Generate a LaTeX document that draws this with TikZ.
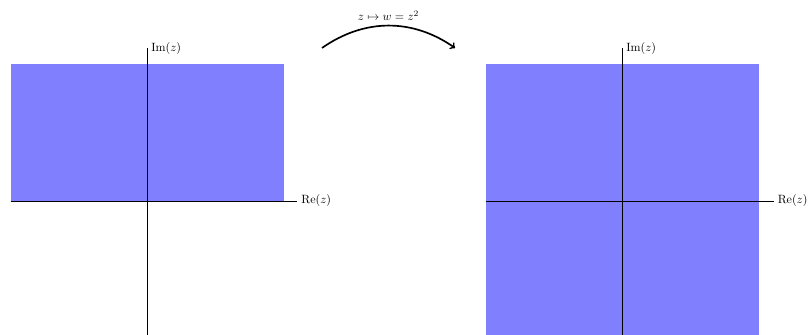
\documentclass[tikz,border=0pt]{standalone}
\usetikzlibrary{arrows}
\begin{document}
\begin{tikzpicture}[x=2cm,y=2cm,
  region/.style={fill=blue!50,draw=none},
  axis/.style={draw=black,line width=0.5pt},
  maparrow/.style={->,line width=1.4pt}]
\useasboundingbox (-2.154,-1.963) rectangle (9.714,2.945);
% left plane
\fill[region] (-2,0) rectangle (2,2);
\coordinate (lxa) at (-2,0);
\coordinate (lxb) at (2.2,0);
\coordinate (lya) at (0,-2);
\coordinate (lyb) at (0,2.24);
\draw[axis] (lxa) -- (lxb) node[right] (lre) {Re$(z)$};
\draw[axis] (lya) -- (lyb) node[right] (lim) {Im$(z)$};
% right plane
\begin{scope}[xshift=13.92cm]
\fill[region] (-2,-2) rectangle (2,2);
\coordinate (rxa) at (-2,0);
\coordinate (rxb) at (2.22,0);
\coordinate (rya) at (0,-2);
\coordinate (ryb) at (0,2.24);
\draw[axis] (rxa) -- (rxb) node[right] (rre) {Re$(z)$};
\draw[axis] (rya) -- (ryb) node[right] (rim) {Im$(z)$};
\end{scope}
% map arrow
\coordinate (ma) at (2.564,2.242);
\coordinate (mb) at (4.513,2.242);
\draw[maparrow] (ma) to[bend left=35] node[above] (ml) {$z\mapsto w=z^2$} (mb);
\end{tikzpicture}
\end{document}
